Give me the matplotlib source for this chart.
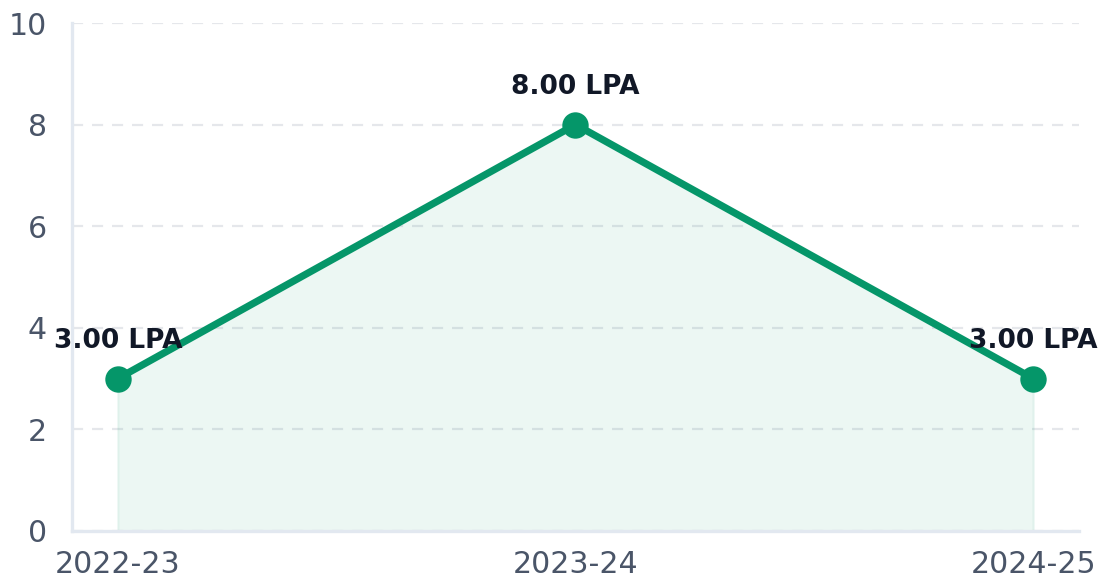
import matplotlib
matplotlib.use("Agg")
import matplotlib.pyplot as plt

# Salary trend data
years = ["2022-23", "2023-24", "2024-25"]
salary_lpa = [3.0, 8.0, 3.0]
y_ticks = [0, 2, 4, 6, 8, 10]

line_color = "#059669"
tick_color = "#4a5568"
spine_color = "#e2e8f0"

fig = plt.figure(figsize=(5.505, 2.92), dpi=200)
ax = fig.add_axes([0.0654, 0.0908, 0.9146, 0.8698])

xs = list(range(len(years)))
ax.fill_between(xs, salary_lpa, 0, color=line_color, alpha=0.075, linewidth=0.8)
ax.plot(xs, salary_lpa, color=line_color, linewidth=2.6, marker="o",
        markersize=8.5, zorder=3, solid_capstyle="round")

for x, v in zip(xs, salary_lpa):
    ax.annotate(f"{v:.2f} LPA", xy=(x, v), xytext=(0, 9), textcoords="offset points",
                ha="center", va="bottom", fontsize=9.5, fontweight="bold",
                color="#111827", zorder=4)

ax.set_xlim(-0.1, 2.1)
ax.set_ylim(0, 10)
ax.set_xticks(xs)
ax.set_xticklabels(years)
ax.set_yticks(y_ticks)

ax.grid(axis="y", linestyle=(0, (5, 4)), color="#e5e7eb", linewidth=0.8)
ax.set_axisbelow(True)
for side in ("top", "right"):
    ax.spines[side].set_visible(False)
for side in ("left", "bottom"):
    ax.spines[side].set_color(spine_color)
    ax.spines[side].set_linewidth(1.2)

ax.tick_params(axis="both", length=0, labelsize=10.8, colors=tick_color)
ax.tick_params(axis="y", pad=9)
ax.tick_params(axis="x", pad=7)

fig.savefig("out.png", dpi=200)
